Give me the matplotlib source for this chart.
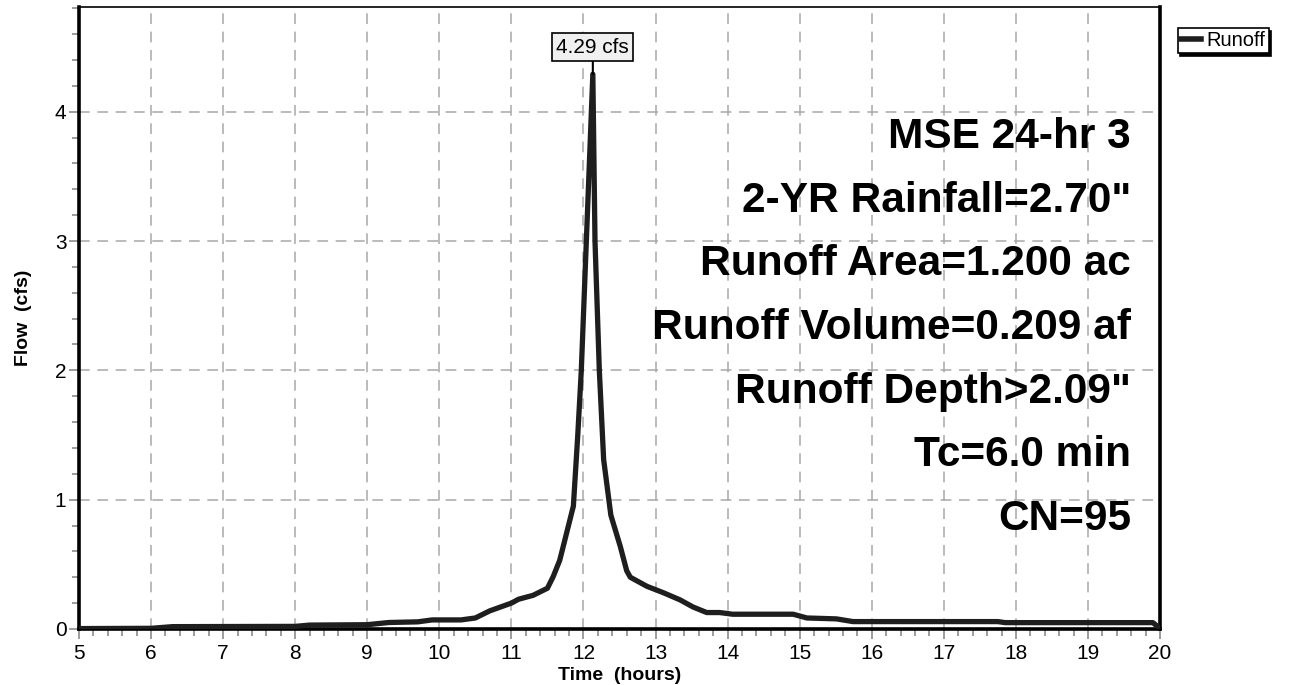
import numpy as np
import matplotlib.pyplot as plt
from matplotlib.ticker import MultipleLocator

plt.rcParams['font.family'] = ['Liberation Sans', 'DejaVu Sans']

# hydrograph: time (hours) vs runoff flow (cfs)
time_hr = [5.0, 6.0, 6.3, 8.0, 8.2, 9.0, 9.3, 9.7, 9.9, 10.3, 10.5, 10.7, 11.0,
           11.1, 11.3, 11.5, 11.58, 11.67, 11.72, 11.86, 11.92, 11.97, 12.04,
           12.13, 12.16, 12.22, 12.28, 12.38, 12.51, 12.60, 12.65, 12.88, 13.11,
           13.34, 13.52, 13.71, 13.89, 14.07, 14.91, 15.10, 15.51, 15.74, 17.75,
           17.85, 19.9, 20.0]
flow_cfs = [0.003, 0.005, 0.018, 0.02, 0.03, 0.033, 0.05, 0.055, 0.07, 0.07,
            0.085, 0.14, 0.2, 0.23, 0.26, 0.315, 0.405, 0.53, 0.64, 0.95, 1.49,
            2.0, 3.0, 4.29, 3.0, 2.0, 1.31, 0.88, 0.64, 0.45, 0.40, 0.33, 0.28,
            0.225, 0.17, 0.127, 0.127, 0.114, 0.114, 0.085, 0.078, 0.057, 0.057,
            0.049, 0.049, 0.005]
peak_t = 12.13
peak_q = 4.29

info_lines = ["MSE 24-hr 3", '2-YR Rainfall=2.70"', "Runoff Area=1.200 ac",
              "Runoff Volume=0.209 af", 'Runoff Depth>2.09"', "Tc=6.0 min", "CN=95"]

fig = plt.figure(figsize=(12.94, 6.85), dpi=100)
ax = fig.add_axes([0.061, 0.0818, 0.8355, 0.908])

ax.plot(time_hr, flow_cfs, color='#1e1e1e', lw=3.8, solid_joinstyle='round',
        zorder=3, label='Runoff')

ax.set_xlim(5, 20)
ax.set_ylim(0, 4.81)
ax.xaxis.set_major_locator(MultipleLocator(1))
ax.xaxis.set_minor_locator(MultipleLocator(0.2))
ax.yaxis.set_major_locator(MultipleLocator(1))
ax.yaxis.set_minor_locator(MultipleLocator(0.2))
ax.tick_params(which='both', color='#8c8c8c', labelsize=15, width=1.2, pad=2)
ax.tick_params(axis='x', which='major', pad=4)
ax.tick_params(which='major', length=7)
ax.tick_params(which='minor', length=5)
ax.grid(True, which='major', color='#a8a8a8', ls=(0, (7, 5)), lw=1.1)

for s in ['left', 'right', 'bottom']:
    ax.spines[s].set_linewidth(2.6)
ax.spines['top'].set_linewidth(1.2)

ax.set_xlabel('Time  (hours)', fontweight='bold', fontsize=14, labelpad=3)
ax.set_ylabel('Flow  (cfs)', fontweight='bold', fontsize=14, labelpad=16)

# peak label with leader line
ax.annotate(f'{peak_q:.2f} cfs', xy=(peak_t, peak_q), xytext=(peak_t, 4.5),
            ha='center', va='center', fontsize=15,
            bbox=dict(boxstyle='square,pad=0.2', fc='#f0f0f0', ec='black', lw=1.2),
            arrowprops=dict(arrowstyle='-', color='black', lw=1.5,
                            shrinkA=0, shrinkB=0), zorder=5)

# storm summary text
for i, line in enumerate(info_lines):
    ax.text(0.973, 0.791 - i * 0.1024, line, transform=ax.transAxes,
            ha='right', va='center', fontsize=30.5, fontweight='bold', zorder=4)

leg = fig.legend(loc='upper left', bbox_to_anchor=(0.910, 0.959), fontsize=14.5,
                 handlelength=1.0, handletextpad=0.3, borderpad=0.15,
                 borderaxespad=0, fancybox=False,
                 shadow={'color': 'black', 'alpha': 1},
                 edgecolor='black', framealpha=1)
leg.get_frame().set_linewidth(1.2)
for h in leg.get_lines():
    h.set_linewidth(4)

fig.savefig('out.png', dpi=100)
